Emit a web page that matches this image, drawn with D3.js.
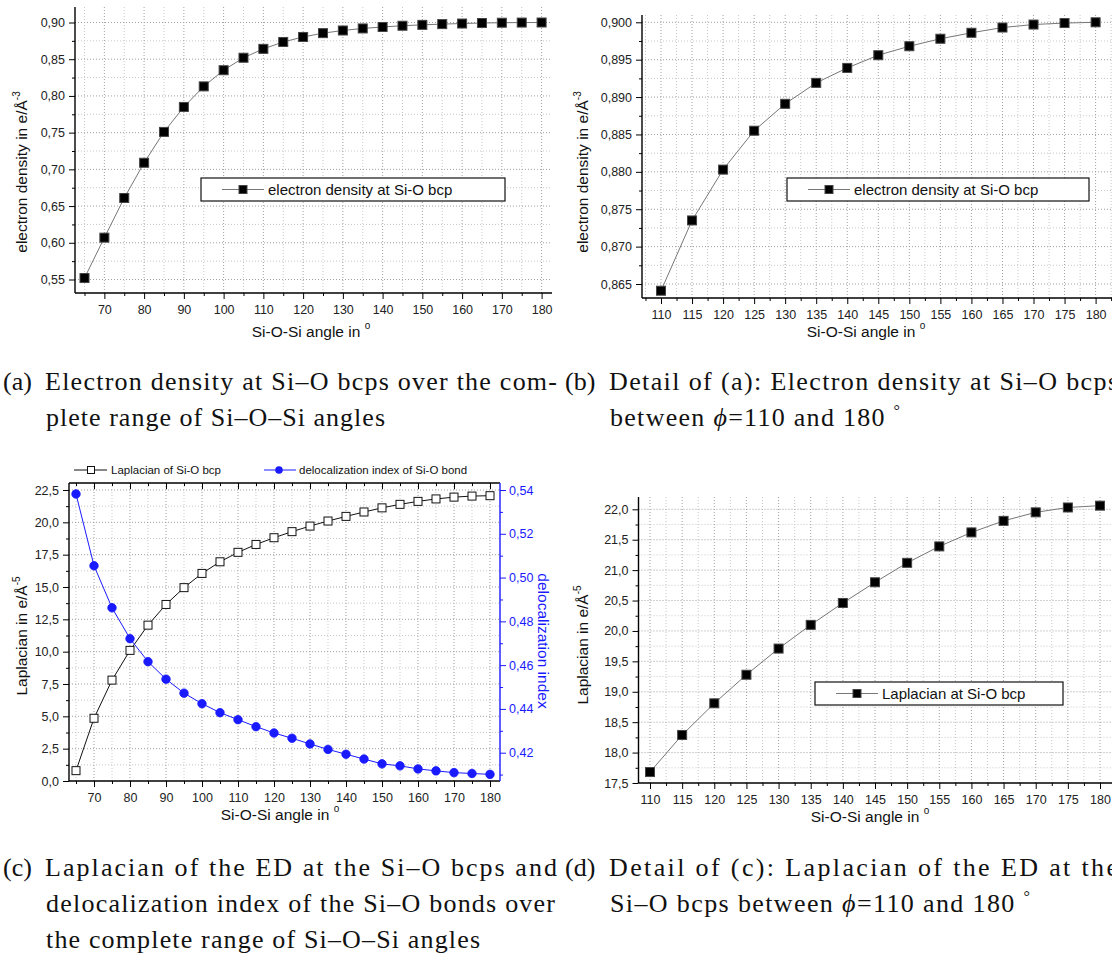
<!DOCTYPE html>
<html><head><meta charset="utf-8">
<script src="https://cdn.jsdelivr.net/npm/d3@7"></script>
<style>
html,body{margin:0;padding:0;background:#fff;}
svg{display:block;}
</style></head>
<body>
<svg id="chart" width="1112" height="956"></svg>
<script>
// ---------------- data ----------------
const angles = [65,70,75,80,85,90,95,100,105,110,115,120,125,130,135,140,145,150,155,160,165,170,175,180];
const edValues = [0.552,0.607,0.661,0.709,0.751,0.785,0.813,0.835,0.852,0.8641,0.8735,0.8803,0.8855,0.8891,0.8919,0.8939,0.8956,0.8968,0.8978,0.8986,0.8993,0.8997,0.8999,0.9000];
const lapValues = [0.8,4.85,7.8,10.1,12.05,13.65,14.95,16.05,16.95,17.68,18.29,18.81,19.28,19.71,20.10,20.46,20.80,21.12,21.39,21.62,21.81,21.95,22.03,22.06];
const diValues = [0.5382,0.5054,0.4862,0.4721,0.4616,0.4536,0.4472,0.4424,0.4383,0.4351,0.4319,0.4290,0.4266,0.4240,0.4215,0.4193,0.4171,0.4149,0.4140,0.4126,0.4117,0.4109,0.4105,0.4101];

const fullXMajor = [70,80,90,100,110,120,130,140,150,160,170,180];
const fullXMinor = [65,75,85,95,105,115,125,135,145,155,165,175];
const detXMajor = [110,115,120,125,130,135,140,145,150,155,160,165,170,175,180];
const detXMinor = [107.5,112.5,117.5,122.5,127.5,132.5,137.5,142.5,147.5,152.5,157.5,162.5,167.5,172.5,177.5,182.5];
const edFullYMajor = [0.55,0.60,0.65,0.70,0.75,0.80,0.85,0.90];
const edFullYMinor = [0.575,0.625,0.675,0.725,0.775,0.825,0.875];
const edDetYMajor = [0.865,0.870,0.875,0.880,0.885,0.890,0.895,0.900];
const edDetYMinor = [0.8675,0.8725,0.8775,0.8825,0.8875,0.8925,0.8975];
const lapFullYMajor = [0,2.5,5,7.5,10,12.5,15,17.5,20,22.5];
const lapFullYMinor = [1.25,3.75,6.25,8.75,11.25,13.75,16.25,18.75,21.25];
const diYMajor = [0.42,0.44,0.46,0.48,0.50,0.52,0.54];
const diYMinor = [0.41,0.43,0.45,0.47,0.49,0.51,0.53];
const lapDetYMajor = [17.5,18.0,18.5,19.0,19.5,20.0,20.5,21.0,21.5,22.0];
const lapDetYMinor = [17.75,18.25,18.75,19.25,19.75,20.25,20.75,21.25,21.75];

const legendA = "electron density at Si-O bcp";
const legendD = "Laplacian at Si-O bcp";
const legendC1 = "Laplacian of Si-O bcp";
const legendC2 = "delocalization index of Si-O bond";

// ---------------- helpers ----------------
const svg = d3.select("#chart");
svg.append("rect").attr("width",1112).attr("height",956).attr("fill","#fff");
const SANS = '"Liberation Sans", Arial, sans-serif';
const SERIF = '"Liberation Serif", "Times New Roman", serif';
const BLUE = "#1a1aff";

function comma(dec){ const f = d3.format("."+dec+"f"); return d => f(d).replace(".",","); }

function panel(cfg){
  const g = svg.append("g");
  const f = cfg.frame; // {l,r,t,b}
  const x = d3.scaleLinear().domain(cfg.xAnchor).range(cfg.xPix);
  const y = d3.scaleLinear().domain(cfg.yAnchor).range(cfg.yPix);
  const grid = g.append("g");
  const inX = v => x(v) > f.l+0.5 && x(v) < f.r-0.5;
  const inY = v => y(v) > f.t+0.5 && y(v) < f.b-0.5;
  cfg.xMinor.filter(inX).forEach(v=>grid.append("line").attr("x1",x(v)).attr("x2",x(v)).attr("y1",f.t).attr("y2",f.b)
      .attr("stroke","#c8c8c8").attr("stroke-dasharray","1,2"));
  cfg.yMinor.filter(inY).forEach(v=>grid.append("line").attr("y1",y(v)).attr("y2",y(v)).attr("x1",f.l).attr("x2",f.r)
      .attr("stroke","#c8c8c8").attr("stroke-dasharray","1,2"));
  cfg.xMajor.filter(inX).forEach(v=>grid.append("line").attr("x1",x(v)).attr("x2",x(v)).attr("y1",f.t).attr("y2",f.b)
      .attr("stroke","#a0a0a0").attr("stroke-dasharray","1,2"));
  cfg.yMajor.filter(inY).forEach(v=>grid.append("line").attr("y1",y(v)).attr("y2",y(v)).attr("x1",f.l).attr("x2",f.r)
      .attr("stroke","#a0a0a0").attr("stroke-dasharray","1,2"));

  const styleAxis = (sel, color) => {
    sel.select(".domain").remove();
    sel.selectAll("line").attr("stroke", color||"#000");
    sel.selectAll("text").attr("font-size","12.5px").attr("font-family",SANS).attr("fill", color||"#222");
  };
  const xa = g.append("g").attr("transform",`translate(0,${f.b})`)
    .call(d3.axisBottom(x).tickValues(cfg.xMajor).tickSize(6).tickPadding(6).tickFormat(d3.format("d")));
  styleAxis(xa);
  const xm = g.append("g").attr("transform",`translate(0,${f.b})`)
    .call(d3.axisBottom(x).tickValues(cfg.xMinor.filter(v=>x(v)>=f.l-0.5)).tickSize(3).tickFormat(""));
  styleAxis(xm);
  const ya = g.append("g").attr("transform",`translate(${f.l},0)`)
    .call(d3.axisLeft(y).tickValues(cfg.yMajor).tickSize(6).tickPadding(4).tickFormat(comma(cfg.yDec)));
  styleAxis(ya);
  const ym = g.append("g").attr("transform",`translate(${f.l},0)`)
    .call(d3.axisLeft(y).tickValues(cfg.yMinor).tickSize(3).tickFormat(""));
  styleAxis(ym);
  g.append("line").attr("x1",f.l).attr("x2",f.l).attr("y1",f.t).attr("y2",f.b).attr("stroke","#000").attr("stroke-width",1.4);
  g.append("line").attr("x1",f.l).attr("x2",f.r).attr("y1",f.b).attr("y2",f.b).attr("stroke","#000").attr("stroke-width",1.4);

  const yt = g.append("text").attr("transform",`translate(${cfg.yTitlePos[0]},${cfg.yTitlePos[1]}) rotate(-90)`)
    .attr("text-anchor","middle").attr("font-family",SANS).attr("font-size","15.5px").attr("fill","#111");
  yt.append("tspan").text(cfg.yTitle);
  yt.append("tspan").attr("font-size","10px").attr("dy","-7").text(cfg.yTitleSup);
  const xt = g.append("text").attr("x",cfg.xTitlePos[0]).attr("y",cfg.xTitlePos[1])
    .attr("text-anchor","middle").attr("font-family",SANS).attr("font-size","15.5px").attr("fill","#111");
  xt.append("tspan").text("Si-O-Si angle in ");
  xt.append("tspan").attr("font-size","10px").attr("dy","-8").text("o");
  return {g,x,y,f};
}

function drawSeries(p, xs, ys, yScale, opt){
  const pts = xs.map((a,i)=>[a, ys[i]]);
  const line = d3.line().x(d=>p.x(d[0])).y(d=>yScale(d[1]));
  p.g.append("path").datum(pts).attr("d",line).attr("fill","none")
    .attr("stroke",opt.lineColor).attr("stroke-width",1);
  const s = opt.size;
  if(opt.shape==="circle"){
    p.g.selectAll(null).data(pts).enter().append("circle")
      .attr("cx",d=>p.x(d[0])).attr("cy",d=>yScale(d[1])).attr("r",s/2)
      .attr("fill",opt.fill).attr("stroke",opt.stroke).attr("stroke-width",0.8);
  } else {
    p.g.selectAll(null).data(pts).enter().append("rect")
      .attr("x",d=>p.x(d[0])-s/2).attr("y",d=>yScale(d[1])-s/2).attr("width",s).attr("height",s)
      .attr("fill",opt.fill).attr("stroke",opt.stroke).attr("stroke-width",opt.sw||1);
  }
}

function boxLegend(g, box, label){
  g.append("rect").attr("x",box.x).attr("y",box.y).attr("width",box.w).attr("height",box.h)
    .attr("fill","#fff").attr("stroke","#111").attr("stroke-width",1.2);
  const cy = box.y+box.h/2;
  g.append("line").attr("x1",box.x+21).attr("x2",box.x+63).attr("y1",cy).attr("y2",cy).attr("stroke","#777");
  g.append("rect").attr("x",box.x+38).attr("y",cy-4).attr("width",8).attr("height",8).attr("fill","#000").attr("stroke","#444");
  g.append("text").attr("x",box.x+67).attr("y",cy+5).attr("font-family",SANS).attr("font-size","15px").attr("fill","#111").text(label);
}

// ---------------- panel (a) ----------------
const pa = panel({
  frame:{l:75,r:552,t:7,b:293},
  xAnchor:[65,180], xPix:[84.5,541.6],
  yAnchor:[0.55,0.90], yPix:[279.5,22.5],
  xMajor:fullXMajor, xMinor:fullXMinor, yMajor:edFullYMajor, yMinor:edFullYMinor, yDec:2,
  yTitle:"electron density in e/Å", yTitleSup:"-3", yTitlePos:[27,172], xTitlePos:[311,337]
});
drawSeries(pa, angles, edValues, pa.y, {lineColor:"#777", shape:"rect", size:9, fill:"#000", stroke:"#444"});
boxLegend(pa.g, {x:201,y:178,w:304,h:23}, legendA);

// ---------------- panel (b) ----------------
const detIdx = angles.map((a,i)=>i).filter(i=>angles[i]>=110);
const detAngles = detIdx.map(i=>angles[i]);
const pb = panel({
  frame:{l:642,r:1115,t:15,b:298},
  xAnchor:[110,180], xPix:[661,1095.6],
  yAnchor:[0.865,0.900], yPix:[284,22.3],
  xMajor:detXMajor, xMinor:detXMinor, yMajor:edDetYMajor, yMinor:edDetYMinor, yDec:3,
  yTitle:"electron density in e/Å", yTitleSup:"-3", yTitlePos:[588,172], xTitlePos:[866,337]
});
drawSeries(pb, detAngles, detIdx.map(i=>edValues[i]), pb.y, {lineColor:"#777", shape:"rect", size:9, fill:"#000", stroke:"#444"});
boxLegend(pb.g, {x:787,y:178,w:302,h:23}, legendA);

// ---------------- panel (c) ----------------
const pc = panel({
  frame:{l:69,r:500,t:483,b:781},
  xAnchor:[65,180], xPix:[76,490],
  yAnchor:[0,22.5], yPix:[781,490],
  xMajor:fullXMajor, xMinor:fullXMinor, yMajor:lapFullYMajor, yMinor:lapFullYMinor, yDec:1,
  yTitle:"Laplacian in e/Å", yTitleSup:"-5", yTitlePos:[27,636], xTitlePos:[280,820]
});
pc.g.append("line").attr("x1",69).attr("x2",500).attr("y1",483).attr("y2",483).attr("stroke","#000").attr("stroke-width",1.4);
const topMaj = pc.g.append("g").attr("transform","translate(0,483)").call(d3.axisTop(pc.x).tickValues(fullXMajor).tickSize(-6).tickFormat(""));
topMaj.select(".domain").remove();
const topMin = pc.g.append("g").attr("transform","translate(0,483)").call(d3.axisTop(pc.x).tickValues(fullXMinor).tickSize(-3).tickFormat(""));
topMin.select(".domain").remove();
const yDI = d3.scaleLinear().domain([0.42,0.54]).range([752.7,490]);
pc.g.append("line").attr("x1",500).attr("x2",500).attr("y1",483).attr("y2",781).attr("stroke",BLUE).attr("stroke-width",1.4);
const ra = pc.g.append("g").attr("transform","translate(500,0)")
  .call(d3.axisRight(yDI).tickValues(diYMajor).tickSize(6).tickPadding(3).tickFormat(comma(2)));
ra.select(".domain").remove();
ra.selectAll("line").attr("stroke",BLUE);
ra.selectAll("text").attr("fill",BLUE).attr("font-size","12.5px").attr("font-family",SANS);
const rm = pc.g.append("g").attr("transform","translate(500,0)")
  .call(d3.axisRight(yDI).tickValues(diYMinor).tickSize(3).tickFormat(""));
rm.select(".domain").remove();
rm.selectAll("line").attr("stroke",BLUE);
pc.g.append("text").attr("transform","translate(538,641) rotate(90)").attr("text-anchor","middle")
  .attr("font-family",SANS).attr("font-size","15.5px").attr("fill",BLUE).text("delocalization index");
drawSeries(pc, angles, lapValues, pc.y, {lineColor:"#111", shape:"rect", size:8, fill:"#fff", stroke:"#111", sw:1});
drawSeries(pc, angles, diValues, yDI, {lineColor:BLUE, shape:"circle", size:8.5, fill:BLUE, stroke:BLUE});
{
  const ly = 470;
  const lg = pc.g.append("g");
  lg.append("line").attr("x1",74).attr("x2",107).attr("y1",ly).attr("y2",ly).attr("stroke","#111");
  lg.append("rect").attr("x",87.5).attr("y",ly-3.5).attr("width",7).attr("height",7).attr("fill","#fff").attr("stroke","#111");
  lg.append("text").attr("x",111).attr("y",ly+4).attr("font-family",SANS).attr("font-size","11.5px").attr("fill","#111").text(legendC1);
  lg.append("line").attr("x1",264).attr("x2",296).attr("y1",ly).attr("y2",ly).attr("stroke",BLUE);
  lg.append("circle").attr("cx",279).attr("cy",ly).attr("r",3.8).attr("fill",BLUE);
  lg.append("text").attr("x",299).attr("y",ly+4).attr("font-family",SANS).attr("font-size","11.5px").attr("fill","#111").text(legendC2);
}

// ---------------- panel (d) ----------------
const pd = panel({
  frame:{l:638.5,r:1115,t:497,b:783},
  xAnchor:[110,180], xPix:[650,1100],
  yAnchor:[17.5,22.0], yPix:[783,509.3],
  xMajor:detXMajor, xMinor:detXMinor, yMajor:lapDetYMajor, yMinor:lapDetYMinor, yDec:1,
  yTitle:"Laplacian in e/Å", yTitleSup:"-5", yTitlePos:[588,645], xTitlePos:[870,822]
});
drawSeries(pd, detAngles, detIdx.map(i=>lapValues[i]), pd.y, {lineColor:"#777", shape:"rect", size:9, fill:"#000", stroke:"#444"});
boxLegend(pd.g, {x:815,y:682,w:248,h:23}, legendD);

// ---------------- captions ----------------
const CAPSIZE = "26px";
function cap(x, y, label){
  svg.append("text").attr("x",x).attr("y",y).attr("font-family",SERIF).attr("font-size",CAPSIZE).attr("fill","#111").text(label);
}
function capLine(x, y, parts, len){
  const t = svg.append("text").attr("x",x).attr("y",y).attr("font-family",SERIF).attr("font-size",CAPSIZE).attr("fill","#111");
  if(typeof parts === "string"){
    t.text(parts);
  } else {
    parts.forEach(p=>{
      const s = t.append("tspan").text(p.t);
      if(p.i) s.attr("font-style","italic");
      if(p.sup) s.attr("font-size","16px").attr("dy","-10");
    });
  }
  if(len) t.attr("textLength",len).attr("lengthAdjust","spacing");
}
cap(3,390,"(a)");
capLine(45,390,"Electron density at Si–O bcps over the com-",512);
capLine(46,426,"plete range of Si–O–Si angles",339);
cap(565,390,"(b)");
capLine(609,390,"Detail of (a): Electron density at Si–O bcps",509);
capLine(610,426,[{t:"between "},{t:"ϕ",i:true},{t:"=110 and 180 "},{t:"°",sup:true}],290);
cap(3,876,"(c)");
capLine(45,876,"Laplacian of the ED at the Si–O bcps and",512);
capLine(46,912,"delocalization index of the Si–O bonds over",509);
capLine(46,948,"the complete range of Si–O–Si angles",434);
cap(565,876,"(d)");
capLine(609,876,"Detail of (c):  Laplacian of the ED at the",509);
capLine(610,912,[{t:"Si–O bcps between "},{t:"ϕ",i:true},{t:"=110 and 180 "},{t:"°",sup:true}],420);
</script>
</body></html>
